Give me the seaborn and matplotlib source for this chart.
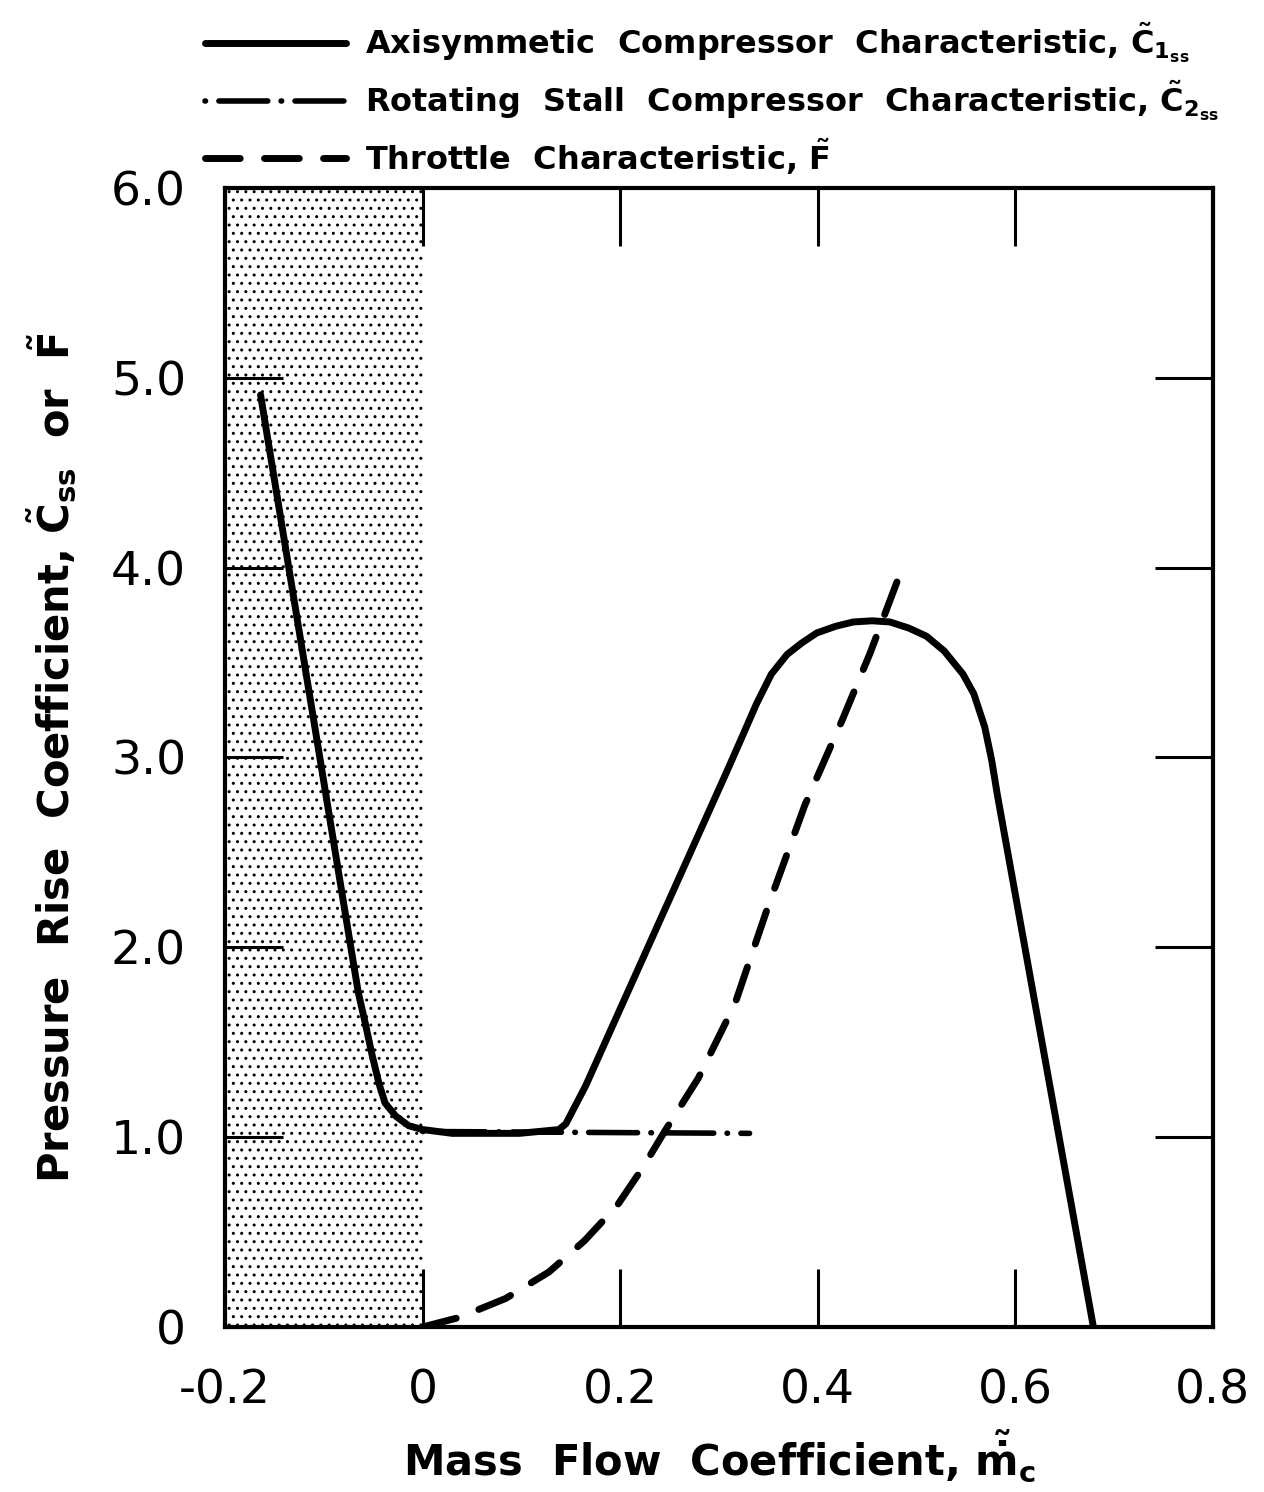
import matplotlib
matplotlib.use("Agg")
import matplotlib.pyplot as plt
import seaborn as sns

# ---- data ----
c1_x = [-0.164, -0.072, -0.065, -0.058, -0.051, -0.044, -0.038, -0.027, -0.014, 0.000,
        0.030, 0.064, 0.098, 0.138, 0.145, 0.155, 0.165, 0.307, 0.322, 0.338,
        0.353, 0.369, 0.384, 0.399, 0.418, 0.436, 0.455, 0.473, 0.492, 0.510,
        0.528, 0.547, 0.558, 0.569, 0.576, 0.582, 0.679]
c1_y = [4.91, 1.98, 1.76, 1.60, 1.43, 1.28, 1.18, 1.11, 1.06, 1.04,
        1.02, 1.02, 1.02, 1.04, 1.07, 1.17, 1.27, 2.915, 3.092, 3.283,
        3.439, 3.543, 3.604, 3.656, 3.691, 3.714, 3.720, 3.714, 3.682, 3.639,
        3.561, 3.439, 3.335, 3.161, 2.987, 2.797, 0.00]

c2_x = [0.0, 0.331]
c2_y = [1.03, 1.02]

f_x = [0.0, 0.037, 0.084, 0.128, 0.164, 0.197, 0.223, 0.245, 0.279, 0.316,
       0.350, 0.387, 0.425, 0.453, 0.482]
f_y = [0.0, 0.05, 0.15, 0.29, 0.455, 0.64, 0.84, 1.03, 1.31, 1.70,
       2.22, 2.75, 3.20, 3.55, 3.95]

stall_region = [-0.2, 0.0]

x_ticks = [-0.2, 0.0, 0.2, 0.4, 0.6, 0.8]
x_tick_labels = ["-0.2", "0", "0.2", "0.4", "0.6", "0.8"]
y_ticks = [0, 1, 2, 3, 4, 5, 6]
y_tick_labels = ["0", "1.0", "2.0", "3.0", "4.0", "5.0", "6.0"]

labels = [
    r"Axisymmetic  Compressor  Characteristic, $\tilde{C}_{1_{ss}}$",
    r"Rotating  Stall  Compressor  Characteristic, $\tilde{C}_{2_{ss}}$",
    r"Throttle  Characteristic, $\tilde{F}$",
]
x_label = r"Mass  Flow  Coefficient, $\tilde{\dot{m}}_c$"
y_label = r"Pressure  Rise  Coefficient, $\tilde{C}_{ss}$  or  $\tilde{F}$"

# ---- style ----
sns.set_style("ticks")
plt.rcParams["font.family"] = ["DejaVu Sans"]
plt.rcParams["mathtext.fontset"] = "dejavusans"
plt.rcParams["mathtext.default"] = "bf"
plt.rcParams["hatch.linewidth"] = 1.0
plt.rcParams["hatch.color"] = "black"
plt.rcParams["text.color"] = "black"
plt.rcParams["axes.labelcolor"] = "black"

fig = plt.figure(figsize=(12.64, 14.92), dpi=100)
ax = fig.add_axes([0.178, 0.1106, 0.7816, 0.7634])

ax.axvspan(stall_region[0], stall_region[1], facecolor="none", edgecolor="black",
           hatch="..", linewidth=0, zorder=0)

sns.lineplot(x=c2_x, y=c2_y, sort=False, estimator=None, color="black",
             linewidth=4, ax=ax)
l_c2 = ax.get_lines()[-1]
l_c2.set_linestyle((0, (0.1, 2.4, 8.8, 2.4)))
l_c2.set_dash_capstyle("round")

sns.lineplot(x=c1_x, y=c1_y, sort=False, estimator=None, color="black",
             linewidth=5, ax=ax)
l_c1 = ax.get_lines()[-1]
l_c1.set_solid_capstyle("round")
l_c1.set_solid_joinstyle("round")

sns.lineplot(x=f_x, y=f_y, sort=False, estimator=None, color="black",
             linewidth=5, ax=ax)
l_f = ax.get_lines()[-1]
l_f.set_linestyle((0, (5, 3.5)))
l_f.set_dash_capstyle("round")

ax.set_xlim(-0.2, 0.8)
ax.set_ylim(0, 6)
ax.set_xticks(x_ticks)
ax.set_xticklabels(x_tick_labels)
ax.set_yticks(y_ticks)
ax.set_yticklabels(y_tick_labels)

for s in ax.spines.values():
    s.set_visible(True)
    s.set_linewidth(3)
    s.set_color("black")

ax.tick_params(axis="both", which="major", direction="in", length=42, width=2.2,
               top=True, right=True, colors="black", labelsize=34)
ax.tick_params(axis="x", pad=30)
ax.tick_params(axis="y", pad=28)

ax.set_xlabel(x_label, fontsize=30, fontweight="bold", labelpad=10, color="black")
ax.set_ylabel(y_label, fontsize=30, fontweight="bold", labelpad=24, color="black")

leg = ax.legend([l_c1, l_c2, l_f], labels, loc="lower left",
                bbox_to_anchor=(-0.02, 1.01), frameon=False, fontsize=23,
                handlelength=4.4, handletextpad=0.6, labelspacing=0.42,
                borderpad=0, borderaxespad=0)
for t in leg.get_texts():
    t.set_fontweight("bold")
    t.set_color("black")

fig.savefig("out.png", dpi=100)
